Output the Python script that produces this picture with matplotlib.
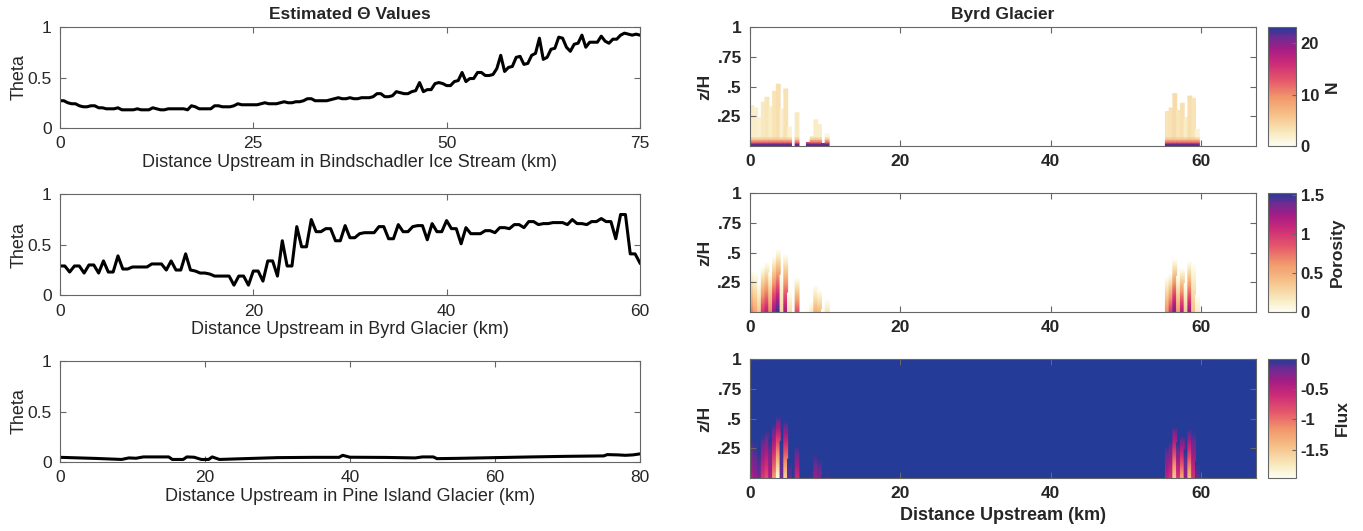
import numpy as np
import matplotlib.pyplot as plt
from matplotlib.colors import LinearSegmentedColormap, Normalize
from matplotlib.cm import ScalarMappable

plt.rcParams['font.family'] = ['Liberation Sans', 'DejaVu Sans']
plt.rcParams['text.color'] = '#262626'
plt.rcParams['axes.labelcolor'] = '#262626'
plt.rcParams['xtick.color'] = '#262626'
plt.rcParams['ytick.color'] = '#262626'

# Theta profiles, every 0.5 km from the grounding line
bind_theta = [
    0.27, 0.27, 0.25, 0.24, 0.24, 0.22, 0.21, 0.21, 0.22, 0.22,
    0.20, 0.20, 0.19, 0.19, 0.19, 0.20, 0.18, 0.18, 0.18, 0.18,
    0.19, 0.18, 0.18, 0.18, 0.20, 0.19, 0.18, 0.18, 0.19, 0.19,
    0.19, 0.19, 0.19, 0.18, 0.22, 0.21, 0.19, 0.19, 0.19, 0.19,
    0.22, 0.22, 0.21, 0.21, 0.21, 0.22, 0.24, 0.23, 0.23, 0.23,
    0.23, 0.23, 0.24, 0.25, 0.24, 0.24, 0.24, 0.25, 0.26, 0.25,
    0.25, 0.26, 0.26, 0.27, 0.29, 0.29, 0.27, 0.27, 0.27, 0.27,
    0.28, 0.29, 0.30, 0.29, 0.29, 0.30, 0.29, 0.29, 0.30, 0.30,
    0.30, 0.31, 0.34, 0.34, 0.31, 0.31, 0.32, 0.36, 0.35, 0.34,
    0.34, 0.36, 0.37, 0.45, 0.36, 0.38, 0.38, 0.44, 0.45, 0.44,
    0.42, 0.42, 0.46, 0.47, 0.55, 0.46, 0.49, 0.49, 0.55, 0.55,
    0.52, 0.52, 0.53, 0.59, 0.72, 0.56, 0.60, 0.61, 0.70, 0.71,
    0.63, 0.64, 0.72, 0.74, 0.89, 0.68, 0.70, 0.78, 0.79, 0.90,
    0.89, 0.80, 0.76, 0.83, 0.84, 0.92, 0.80, 0.85, 0.85, 0.85,
    0.91, 0.86, 0.84, 0.88, 0.88, 0.92, 0.94, 0.93, 0.92, 0.93,
    0.92,
]
byrd_theta = [
    0.29, 0.29, 0.23, 0.29, 0.29, 0.22, 0.30, 0.30, 0.22, 0.34,
    0.23, 0.23, 0.39, 0.26, 0.26, 0.28, 0.28, 0.28, 0.28, 0.31,
    0.31, 0.31, 0.25, 0.34, 0.25, 0.25, 0.41, 0.25, 0.24, 0.22,
    0.22, 0.21, 0.19, 0.19, 0.19, 0.19, 0.10, 0.19, 0.19, 0.10,
    0.24, 0.24, 0.14, 0.34, 0.34, 0.19, 0.54, 0.29, 0.29, 0.68,
    0.48, 0.48, 0.75, 0.63, 0.63, 0.66, 0.66, 0.54, 0.54, 0.69,
    0.57, 0.57, 0.61, 0.62, 0.62, 0.62, 0.68, 0.68, 0.56, 0.56,
    0.70, 0.63, 0.63, 0.68, 0.69, 0.69, 0.55, 0.71, 0.63, 0.63,
    0.74, 0.66, 0.66, 0.51, 0.67, 0.61, 0.61, 0.61, 0.64, 0.64,
    0.62, 0.67, 0.67, 0.66, 0.70, 0.70, 0.67, 0.73, 0.73, 0.70,
    0.71, 0.71, 0.72, 0.72, 0.72, 0.70, 0.75, 0.71, 0.71, 0.70,
    0.73, 0.73, 0.76, 0.73, 0.73, 0.56, 0.80, 0.80, 0.41, 0.41,
    0.32,
]
pine_km = [0, 5, 8.5, 9.5, 10.5, 11.5, 15, 15.5, 17, 17.5,
           18.5, 19.5, 20.5, 21, 22, 25, 30, 35, 38.5, 39,
           40, 45, 49, 50, 51.5, 52, 55, 60, 65, 70,
           75, 75.5, 77, 78, 79, 80]
pine_theta = [0.046, 0.035, 0.025, 0.040, 0.037, 0.050, 0.050, 0.025, 0.025, 0.050,
              0.047, 0.025, 0.025, 0.050, 0.025, 0.032, 0.043, 0.046, 0.046, 0.066,
              0.047, 0.045, 0.040, 0.050, 0.050, 0.033, 0.036, 0.043, 0.050, 0.056,
              0.060, 0.073, 0.070, 0.066, 0.070, 0.080]

bind_km = np.arange(len(bind_theta)) * 0.5
byrd_km = np.arange(len(byrd_theta)) * 0.5

# Byrd Glacier till columns (0.5 km wide): centre, top (z/H) and bed values
col_km = [0.25, 0.75, 1.25, 1.75, 2.25, 2.75, 3.25, 3.75, 4.25, 4.75, 5.25,
          6.25, 7.75, 8.25, 8.75, 9.25, 9.75, 10.25,
          55.5, 56.0, 56.5, 57.0, 57.5, 58.0, 58.5, 59.0, 59.5]
col_top = [0.34, 0.32, 0.24, 0.37, 0.41, 0.33, 0.46, 0.52, 0.31, 0.48, 0.16,
           0.28, 0.03, 0.08, 0.22, 0.18, 0.02, 0.10,
           0.29, 0.32, 0.44, 0.30, 0.36, 0.24, 0.42, 0.40, 0.14]
col_porosity = [0.70, 0.55, 0.35, 1.00, 1.15, 0.70, 1.30, 1.52, 0.30, 1.25, 0.25,
                0.90, 0.00, 0.15, 0.50, 0.45, 0.00, 0.20,
                0.65, 1.00, 1.40, 0.60, 1.20, 0.35, 1.30, 0.40, 0.15]
col_flux = [-0.45, -0.30, -0.20, -0.70, -0.85, -0.45, -1.20, -1.95, -0.20, -1.60, -0.15,
            -0.60, 0.00, -0.05, -0.35, -0.25, 0.00, -0.05,
            -0.50, -0.65, -1.55, -0.70, -1.30, -0.35, -1.45, -0.65, -0.15]
col_n = [2.0, 2.0, 1.8, 2.5, 2.8, 2.2, 3.0, 3.5, 1.8, 3.2, 1.5,
         2.5, 2.0, 1.2, 2.2, 2.0, 2.0, 1.2,
         3.0, 3.2, 3.8, 2.8, 3.3, 2.2, 3.6, 3.0, 1.5]
col_width = 0.5
byrd_length = 67.3

# N close to the bed, shared by every column
n_bed_z = [0.0, 0.017, 0.032, 0.055, 0.08]
n_bed_val = [23.0, 21.0, 12.0, 6.0]

cmap = LinearSegmentedColormap.from_list('till', [
    (0.00, '#fefdf4'), (0.10, '#f8ecc2'), (0.25, '#f6c48b'), (0.40, '#f29a6c'),
    (0.55, '#e6586b'), (0.70, '#cc2a78'), (0.82, '#a21d86'), (0.92, '#6a2c93'),
    (1.00, '#243b97')])

fig = plt.figure(figsize=(13.63, 5.31), dpi=100)


def style_axes(ax, bold=False):
    for s in ax.spines.values():
        s.set_color('#666666')
        s.set_linewidth(0.8)
    ax.tick_params(direction='in', top=True, right=True, length=4,
                   width=0.8, color='#666666', labelsize=12.5, pad=6)
    if bold:
        for lab in ax.get_xticklabels() + ax.get_yticklabels():
            lab.set_fontweight('bold')


# left column: theta along each glacier
left_panels = [
    (bind_km, bind_theta, 75, [0, 25, 50, 75], 'Distance Upstream in Bindschadler Ice Stream (km)'),
    (byrd_km, byrd_theta, 60, [0, 20, 40, 60], 'Distance Upstream in Byrd Glacier (km)'),
    (pine_km, pine_theta, 80, [0, 20, 40, 60, 80], 'Distance Upstream in Pine Island Glacier (km)'),
]
left_bottoms = [0.759, 0.444, 0.130]
for i, (km, theta, xmax, xt, xlab) in enumerate(left_panels):
    ax = fig.add_axes([0.044, left_bottoms[i], 0.4255, 0.190])
    ax.plot(km, theta, color='black', lw=2.2)
    ax.set_xlim(0, xmax)
    ax.set_ylim(0, 1)
    ax.set_xticks(xt)
    ax.set_yticks([0, 0.5, 1])
    ax.set_yticklabels(['0', '0.5', '1'])
    ax.set_xlabel(xlab, fontsize=13, labelpad=2)
    ax.set_ylabel('Theta', fontsize=13, labelpad=0)
    style_axes(ax)
    if i == 0:
        ax.set_title('Estimated \u0398 Values', fontsize=12.5, fontweight='bold', pad=6)

# right column: N, porosity and flux in the Byrd Glacier till
right_panels = [
    ('N', Normalize(0, 23.1), [0, 10, 20], ['0', '10', '20']),
    ('Porosity', Normalize(0, 1.52), [0, 0.5, 1, 1.5], ['0', '0.5', '1', '1.5']),
    ('Flux', Normalize(-1.97, 0), [-1.5, -1, -0.5, 0], ['-1.5', '-1', '-0.5', '0']),
]
right_bottoms = [0.725, 0.4124, 0.0998]
for i, (name, norm, cticks, clabels) in enumerate(right_panels):
    ax = fig.add_axes([0.5503, right_bottoms[i], 0.3712, 0.224])
    if name == 'Flux':
        # flux is zero everywhere outside the columns
        ax.pcolormesh([0, byrd_length], [0, 1], [[0.0]], cmap=cmap, norm=norm)
    for k in range(len(col_km)):
        h = col_top[k]
        x0 = col_km[k] - col_width / 2
        x1 = col_km[k] + col_width / 2
        if name == 'N':
            z = [lv for lv in n_bed_z if lv < h] + [h]
            c = np.interp(z, n_bed_z, n_bed_val + [col_n[k]])
        else:
            bed = col_porosity[k] if name == 'Porosity' else col_flux[k]
            z = np.linspace(0, h, 24)
            c = bed * (1 - z / h)
        z = np.asarray(z)
        X = np.tile([x0, x1], (len(z), 1))
        Y = np.repeat(z[:, None], 2, axis=1)
        C = np.repeat(np.asarray(c)[:, None], 2, axis=1)
        ax.pcolormesh(X, Y, C, cmap=cmap, norm=norm, shading='gouraud')
    ax.set_xlim(0, byrd_length)
    ax.set_ylim(0, 1)
    ax.set_xticks([0, 20, 40, 60])
    ax.set_yticks([0.25, 0.5, 0.75, 1])
    ax.set_yticklabels(['.25', '.5', '.75', '1'])
    ax.set_ylabel('z/H', fontsize=12.5, fontweight='bold', labelpad=4)
    style_axes(ax, bold=True)
    if i == 0:
        ax.set_title('Byrd Glacier', fontsize=12.5, fontweight='bold', pad=6)
    if i == 2:
        ax.set_xlabel('Distance Upstream (km)', fontsize=13, fontweight='bold', labelpad=4)

    cax = fig.add_axes([0.9303, right_bottoms[i], 0.0205, 0.224])
    cb = fig.colorbar(ScalarMappable(norm=norm, cmap=cmap), cax=cax)
    cb.set_ticks(cticks)
    cb.set_ticklabels(clabels)
    cb.outline.set_edgecolor('#666666')
    cb.outline.set_linewidth(0.8)
    cax.tick_params(direction='in', length=3, color='#666666', labelsize=12)
    for lab in cax.get_yticklabels():
        lab.set_fontweight('bold')
    cb.set_label(name, fontsize=12.5, fontweight='bold', rotation=90, labelpad=4)

fig.savefig('out.png', dpi=100)
